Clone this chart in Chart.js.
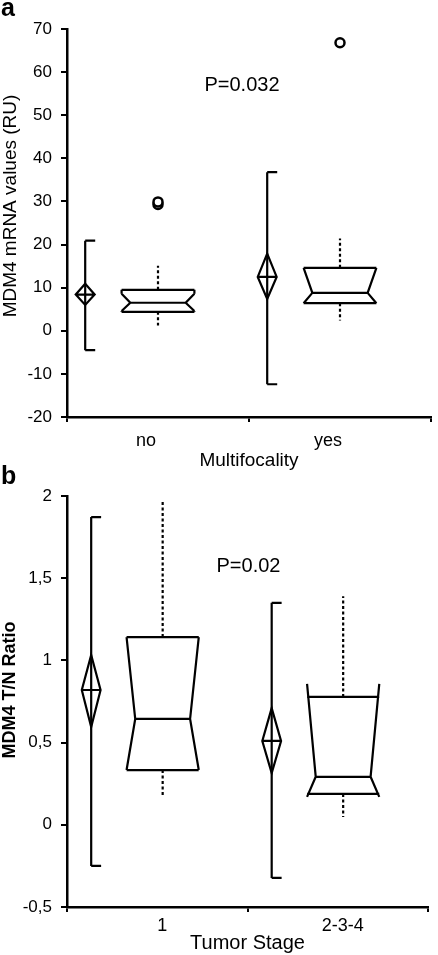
<!DOCTYPE html>
<html lang="en">
<head>
<meta charset="UTF-8">
<title>MDM4 box plots</title>
<style>
  body { margin: 0; background: #fff; }
  #wrap { position: relative; width: 438px; height: 955px; }
  canvas { position: absolute; left: 0; }
  #chartA { top: 0; }
  #chartB { top: 455px; }
</style>
</head>
<body>
<div id="wrap">
  <canvas id="chartA" width="438" height="475"></canvas>
  <canvas id="chartB" width="438" height="500"></canvas>
</div>
<script src="https://cdn.jsdelivr.net/npm/chart.js@4.4.1/dist/chart.umd.min.js"></script>
<script>
// ---- panel a : MDM4 mRNA by multifocality ----
const catsA = ['no', 'yes']
const meanA = [8.4, 12.5]       // diamond centre
const ciLoA = [6.0, 7.4]        // diamond bottom
const ciHiA = [10.9, 17.9]      // diamond top
const sdLoA = [-4.5, -12.4]     // error bar
const sdHiA = [20.9, 36.8]
const q1A = [4.4, 6.4]
const medA = [6.5, 8.8]
const q3A = [9.5, 14.6]
const notchLoA = [4.6, 6.4]
const notchHiA = [8.6, 14.6]
const whiskLoA = [1.2, 2.4]
const whiskHiA = [15.1, 21.4]
const outlierCatA = ['no', 'no', 'yes']
const outlierValA = [29.3, 29.9, 66.8]
const ticksA = { min: -20, max: 70, step: 10 }

// ---- panel b : T/N ratio by tumor stage ----
const catsB = ['1', '2-3-4']
const meanB = [0.82, 0.51]
const ciLoB = [0.595, 0.315]
const ciHiB = [1.033, 0.71]
const sdLoB = [-0.25, -0.323]
const sdHiB = [1.872, 1.35]
const q1B = [0.333, 0.188]
const medB = [0.644, 0.292]
const q3B = [1.142, 0.778]
const notchLoB = [0.333, 0.17]
const notchHiB = [1.142, 0.857]
const whiskLoB = [0.175, 0.047]
const whiskHiB = [1.963, 1.39]
const ticksB = { min: -0.5, max: 2, step: 0.5 }

const FONT = "'Liberation Sans', Arial, sans-serif"

function boxPlugin(s, lay) {
  return {
    id: 'boxes',
    afterDatasetsDraw(chart) {
      const ctx = chart.ctx, xs = chart.scales.x, ys = chart.scales.y
      const w = (xs.right - xs.left) / s.q1.length
      const Y = v => ys.getPixelForValue(v)
      ctx.save()
      ctx.strokeStyle = '#000'
      ctx.lineWidth = 2.2
      ctx.lineJoin = 'miter'
      for (let i = 0; i < s.q1.length; i++) {
        const c = xs.getPixelForValue(i)
        // error bar + diamond
        const ex = c + lay.err * w, cap = 0.055 * w, dw = 0.052 * w
        ctx.beginPath()
        ctx.moveTo(ex, Y(s.sdHi[i])); ctx.lineTo(ex, Y(s.sdLo[i]))
        ctx.moveTo(ex, Y(s.sdHi[i])); ctx.lineTo(ex + cap, Y(s.sdHi[i]))
        ctx.moveTo(ex, Y(s.sdLo[i])); ctx.lineTo(ex + cap, Y(s.sdLo[i]))
        ctx.stroke()
        ctx.beginPath()
        ctx.moveTo(ex, Y(s.ciHi[i]))
        ctx.lineTo(ex + dw, Y(s.mean[i]))
        ctx.lineTo(ex, Y(s.ciLo[i]))
        ctx.lineTo(ex - dw, Y(s.mean[i]))
        ctx.closePath()
        ctx.moveTo(ex - dw, Y(s.mean[i])); ctx.lineTo(ex + dw, Y(s.mean[i]))
        ctx.stroke()
        // notched box
        const bx = c + lay.box * w, hw = 0.2 * w, ind = 0.24 * hw
        ctx.beginPath()
        for (const sgn of [-1, 1]) {
          const edge = bx + sgn * hw, inner = bx + sgn * (hw - ind)
          ctx.moveTo(edge, Y(s.notchHi[i]))
          ctx.lineTo(inner, Y(s.med[i]))
          ctx.lineTo(edge, Y(s.notchLo[i]))
          if (s.notchHi[i] < s.q3[i]) { ctx.moveTo(edge, Y(s.q3[i])); ctx.lineTo(edge, Y(s.notchHi[i])) }
          if (s.notchLo[i] > s.q1[i]) { ctx.moveTo(edge, Y(s.notchLo[i])); ctx.lineTo(edge, Y(s.q1[i])) }
        }
        ctx.moveTo(bx - hw, Y(s.q3[i])); ctx.lineTo(bx + hw, Y(s.q3[i]))
        ctx.moveTo(bx - hw, Y(s.q1[i])); ctx.lineTo(bx + hw, Y(s.q1[i]))
        ctx.moveTo(bx - hw + ind, Y(s.med[i])); ctx.lineTo(bx + hw - ind, Y(s.med[i]))
        ctx.stroke()
        // dotted whiskers
        ctx.save()
        ctx.setLineDash([3, 2.5])
        ctx.beginPath()
        ctx.moveTo(bx, Y(s.q3[i])); ctx.lineTo(bx, Y(s.whiskHi[i]))
        ctx.moveTo(bx, Y(s.q1[i])); ctx.lineTo(bx, Y(s.whiskLo[i]))
        ctx.stroke()
        ctx.restore()
      }
      ctx.restore()
    }
  }
}

function textPlugin(t) {
  return {
    id: 'texts',
    afterDraw(chart) {
      const ctx = chart.ctx, xs = chart.scales.x, ys = chart.scales.y
      ctx.save()
      ctx.fillStyle = '#000'
      // panel letter
      ctx.font = 'bold 25px ' + FONT
      ctx.textAlign = 'left'; ctx.textBaseline = 'alphabetic'
      ctx.fillText(t.letter, 1, t.letterY)
      // p value
      ctx.font = '20px ' + FONT
      ctx.textAlign = 'center'; ctx.textBaseline = 'middle'
      ctx.fillText(t.p, xs.getPixelForValue(0.5) + t.pDx, ys.getPixelForValue(t.pVal))
      // y title
      ctx.translate(t.titleX, t.titleY)
      ctx.rotate(-Math.PI / 2)
      ctx.font = t.titleFont
      ctx.fillText(t.title, 0, 0)
      ctx.restore()
    }
  }
}

function makeChart(id, cats, outCat, outVal, tk, s, lay, txt) {
  return new Chart(document.getElementById(id), {
    type: 'line',
    data: {
      labels: cats,
      datasets: [{
        data: outCat.map((c, i) => ({ x: c, y: outVal[i] })),
        showLine: false,
        pointStyle: 'circle',
        pointRadius: 4.5,
        pointBorderWidth: 2.5,
        pointBorderColor: '#000',
        pointBackgroundColor: '#fff'
      }]
    },
    options: {
      responsive: false,
      animation: false,
      devicePixelRatio: 1,
      layout: { padding: { top: lay.top, left: 0, right: lay.right, bottom: 0 } },
      plugins: { legend: { display: false }, tooltip: { enabled: false } },
      scales: {
        x: {
          type: 'category',
          offset: true,
          afterFit: sc => { sc.height = lay.xh },
          grid: { offset: true, drawOnChartArea: false, drawTicks: true, tickLength: 5, color: '#000', lineWidth: 2 },
          border: { display: true, color: '#000', width: 2.5 },
          ticks: { color: '#000', font: { family: FONT, size: lay.xFont }, padding: lay.xPad, labelOffset: lay.labelOffset, maxRotation: 0 },
          title: { display: true, text: txt.xTitle, color: '#000', font: { family: FONT, size: lay.xTitleFont }, padding: { top: 0, bottom: lay.xTitlePad } }
        },
        y: {
          min: tk.min, max: tk.max,
          afterFit: sc => { sc.width = 67 },
          grid: { drawOnChartArea: false, drawTicks: true, tickLength: 6, color: '#000', lineWidth: 2 },
          border: { display: true, color: '#000', width: 2.5 },
          ticks: {
            stepSize: tk.step, color: '#000', padding: 9,
            font: { family: FONT, size: 17 },
            callback: v => String(v).replace('.', ',')
          }
        }
      }
    },
    plugins: [boxPlugin(s, lay), textPlugin(txt)]
  })
}

makeChart('chartA', catsA, outlierCatA, outlierValA, ticksA,
  { mean: meanA, ciLo: ciLoA, ciHi: ciHiA, sdLo: sdLoA, sdHi: sdHiA, q1: q1A, med: medA, q3: q3A,
    notchLo: notchLoA, notchHi: notchHiA, whiskLo: whiskLoA, whiskHi: whiskHiA },
  { top: 29, right: 3, xh: 58, err: -0.40, box: 0, xFont: 18, xPad: 8, labelOffset: -12, xTitleFont: 19, xTitlePad: 3 },
  { letter: 'a', letterY: 16, p: 'P=0.032', pDx: -7, pVal: 57, xTitle: 'Multifocality',
    title: 'MDM4 mRNA values (RU)', titleFont: '19px ' + FONT, titleX: 11, titleY: 206 })

makeChart('chartB', catsB, [], [], ticksB,
  { mean: meanB, ciLo: ciLoB, ciHi: ciHiB, sdLo: sdLoB, sdHi: sdHiB, q1: q1B, med: medB, q3: q3B,
    notchLo: notchLoB, notchHi: notchHiB, whiskLo: whiskLoB, whiskHi: whiskHiB },
  { top: 41, right: 10, xh: 48, err: -0.366, box: 0.03, xFont: 18, xPad: 3, labelOffset: 5, xTitleFont: 20, xTitlePad: 0 },
  { letter: 'b', letterY: 29, p: 'P=0.02', pDx: 1, pVal: 1.57, xTitle: 'Tumor Stage',
    title: 'MDM4 T/N Ratio', titleFont: 'bold 18px ' + FONT, titleX: 10, titleY: 235 })
</script>
</body>
</html>
